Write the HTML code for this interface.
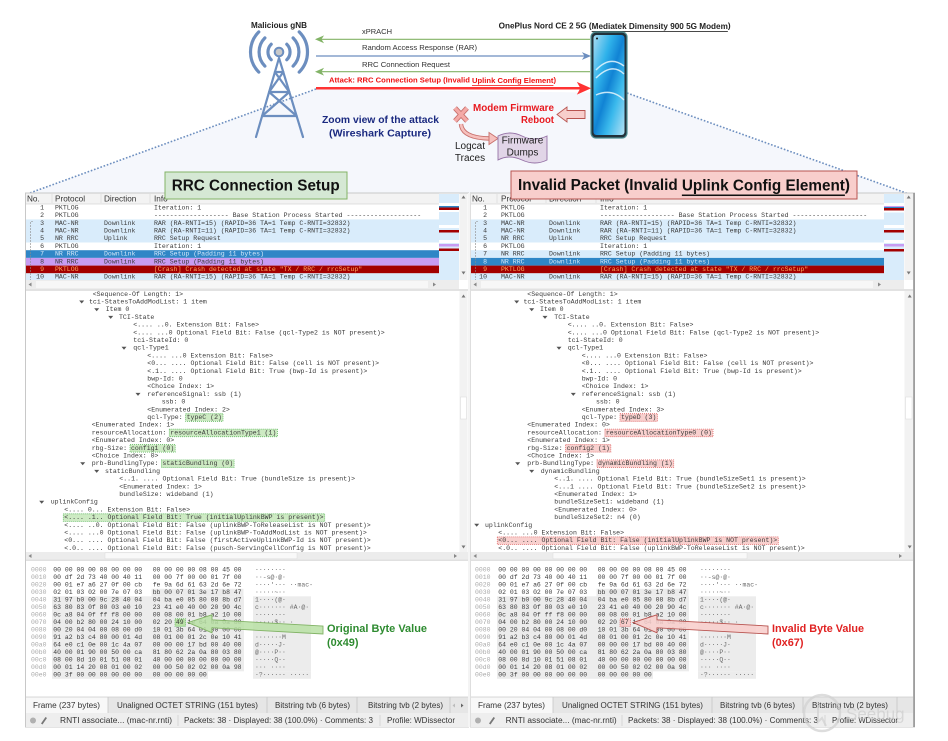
<!DOCTYPE html>
<html><head><meta charset="utf-8">
<style>
html,body{margin:0;padding:0;background:#fff;}
body{width:948px;height:741px;overflow:hidden;}
svg{display:block;font-family:"Liberation Sans",sans-serif;}
.m,.m text{font-family:"Liberation Mono",monospace;font-size:6.55px;dominant-baseline:central;}
.m{fill:#3a3a3a;}
.h,.h text{font-family:"Liberation Mono",monospace;font-size:6.45px;dominant-baseline:central;}
.h{fill:#3a3a3a;}
.o{fill:#a9a9a9;}
.a{fill:#6a6a6a;}
.hd{font-size:8.2px;fill:#333;dominant-baseline:central;}
.st{font-size:8px;fill:#333;dominant-baseline:central;}
.c{dominant-baseline:central;}
</style></head>
<body>
<svg width="948" height="741" viewBox="0 0 948 741" xmlns="http://www.w3.org/2000/svg">
<defs>
 <clipPath id="cpl"><rect x="26" y="204" width="413" height="76"/></clipPath>
 <clipPath id="cpr"><rect x="471" y="204" width="413" height="76"/></clipPath>
 <clipPath id="ctl"><rect x="26" y="291" width="433" height="261"/></clipPath>
 <clipPath id="ctr"><rect x="471" y="291" width="433" height="261"/></clipPath>
 <linearGradient id="scr" x1="0" y1="0" x2="1" y2="1">
  <stop offset="0" stop-color="#a8dcf2"/>
  <stop offset="0.3" stop-color="#2fb2ea"/>
  <stop offset="0.5" stop-color="#1183d4"/>
  <stop offset="0.7" stop-color="#3ab9ec"/>
  <stop offset="1" stop-color="#b5e2f5"/>
 </linearGradient>
</defs>

<!-- background trapezoid + dotted lines -->
<polygon points="27,194 316,89 627,93 909,194" fill="#f5f7fc"/>
<line x1="316" y1="89" x2="27" y2="194" stroke="#6c8ebf" stroke-width="1.6" stroke-dasharray="1.6 1.8"/>
<line x1="627" y1="93" x2="909" y2="194" stroke="#6c8ebf" stroke-width="1.6" stroke-dasharray="1.6 1.8"/>

<!-- gNB tower -->
<text x="251" y="25.5" class="c" font-size="8.2" font-weight="bold" fill="#222" textLength="56" lengthAdjust="spacingAndGlyphs">Malicious gNB</text>
<g stroke="#6c8ebf" stroke-width="3.2" fill="none" stroke-linecap="round">
 <path d="M271.2,44.2 A11,11 0 0 0 271.2,59.8"/>
 <path d="M264.9,37.9 A20,20 0 0 0 264.9,66.1"/>
 <path d="M258.8,31.9 A28.5,28.5 0 0 0 258.8,72.1"/>
 <path d="M286.8,44.2 A11,11 0 0 1 286.8,59.8"/>
 <path d="M293.1,37.9 A20,20 0 0 1 293.1,66.1"/>
 <path d="M299.2,31.9 A28.5,28.5 0 0 1 299.2,72.1"/>
</g>
<g stroke="#6c8ebf" stroke-width="2.2" fill="none" stroke-linecap="round">
 <path d="M279,58 L256,137 M279,58 L303,137"/>
 <path d="M274.9,72 L283.3,72 M274.9,72 L289.3,92 M283.3,72 L269.1,92 M269.1,92 L289.3,92 M269.1,92 L296.6,116 M289.3,92 L262.1,116 M262.1,116 L296.6,116"/>
</g>
<circle cx="279" cy="52" r="4.3" fill="#c9c9c9" stroke="#6c8ebf" stroke-width="2"/>

<!-- phone -->
<text x="498.6" y="26" class="c" font-size="8.2" font-weight="bold" fill="#222" textLength="232" lengthAdjust="spacingAndGlyphs">OnePlus Nord CE 2 5G (<tspan text-decoration="underline">Mediatek Dimensity 900 5G Modem</tspan>)</text>
<rect x="591" y="32" width="36" height="106" rx="5" fill="#22313a" stroke="#4f8f93" stroke-width="1.2"/>
<rect x="593.5" y="35" width="31" height="100" rx="3" fill="url(#scr)"/>
<path d="M596,70 Q610,55 624,66 M596,78 Q612,62 624,74 M596,95 Q612,88 624,100" stroke="#e6f6fd" stroke-width="1.5" fill="none" opacity="0.85"/>
<circle cx="597" cy="38.5" r="1" fill="#111"/>

<!-- sequence arrows -->
<line x1="590" y1="39.3" x2="320" y2="39.3" stroke="#82b366" stroke-width="1.2"/>
<polygon points="316,39.3 323,36.3 321,39.3 323,42.3" fill="#82b366" stroke="#82b366" stroke-width="0.8"/>
<text x="362" y="31.7" class="c" font-size="7.7" fill="#333" textLength="30" lengthAdjust="spacingAndGlyphs">xPRACH</text>

<line x1="316" y1="56" x2="586" y2="56" stroke="#6c8ebf" stroke-width="1.2"/>
<polygon points="590,56 583,53 585,56 583,59" fill="#6c8ebf" stroke="#6c8ebf" stroke-width="0.8"/>
<text x="362" y="47.7" class="c" font-size="7.7" fill="#333" textLength="115" lengthAdjust="spacingAndGlyphs">Random Access Response (RAR)</text>

<line x1="590" y1="71.7" x2="320" y2="71.7" stroke="#82b366" stroke-width="1.2"/>
<polygon points="316,71.7 323,68.7 321,71.7 323,74.7" fill="#82b366" stroke="#82b366" stroke-width="0.8"/>
<text x="362" y="64.3" class="c" font-size="7.7" fill="#333" textLength="88" lengthAdjust="spacingAndGlyphs">RRC Connection Request</text>

<line x1="316" y1="88.3" x2="581" y2="88.3" stroke="#ff3333" stroke-width="2.5"/>
<polygon points="590,88.3 578,83 581,88.3 578,93.6" fill="#ff3333" stroke="#ff3333" stroke-width="1"/>
<text x="329" y="80" class="c" font-size="7.6" font-weight="bold" fill="#ee1111" textLength="227" lengthAdjust="spacingAndGlyphs">Attack: RRC Connection Setup (Invalid <tspan text-decoration="underline">Uplink Config Element</tspan>)</text>

<!-- modem reboot -->
<text x="554" y="108.3" class="c" text-anchor="end" font-size="10" font-weight="bold" fill="#e8191f" textLength="81" lengthAdjust="spacingAndGlyphs">Modem Firmware</text>
<text x="554" y="120.5" class="c" text-anchor="end" font-size="10" font-weight="bold" fill="#e8191f" textLength="33" lengthAdjust="spacingAndGlyphs">Reboot</text>
<polygon points="557,114.5 567,107 567,110.5 585,110.5 585,118.5 567,118.5 567,122" fill="#f8cecc" stroke="#b85450" stroke-width="0.9"/>

<!-- X mark and curved arrow -->
<g stroke-linecap="butt">
 <path d="M455,108 L467,121 M467,108 L455,121" stroke="#c8706c" stroke-width="5"/>
 <path d="M455,108 L467,121 M467,108 L455,121" stroke="#f4aaa7" stroke-width="3.3"/>
</g>
<path d="M461,124 Q462,138 490,138.5" stroke="#c8706c" stroke-width="4.4" fill="none"/>
<path d="M461,124 Q462,138 490,138.5" stroke="#f6c0bd" stroke-width="2.6" fill="none"/>
<polygon points="489,132.5 498,138.5 489,144.5" fill="#f6c0bd" stroke="#c8706c" stroke-width="0.9"/>

<text x="380.5" y="120.7" class="c" text-anchor="middle" font-size="10.3" font-weight="bold" fill="#1b2a80" textLength="117" lengthAdjust="spacingAndGlyphs">Zoom view of the attack</text>
<text x="380" y="134" class="c" text-anchor="middle" font-size="10.3" font-weight="bold" fill="#1b2a80" textLength="102" lengthAdjust="spacingAndGlyphs">(Wireshark Capture)</text>

<text x="470" y="146.7" class="c" text-anchor="middle" font-size="10" fill="#222">Logcat</text>
<text x="470" y="158.3" class="c" text-anchor="middle" font-size="10" fill="#222">Traces</text>

<path d="M498,136 Q510,130 522,136 T547,136 V160 Q535,166 522,160 T498,160 Z" fill="#e1d5e7" stroke="#9673a6" stroke-width="0.9"/>
<text x="522.5" y="141" class="c" text-anchor="middle" font-size="10" fill="#222">Firmware</text>
<text x="522.5" y="153" class="c" text-anchor="middle" font-size="10" fill="#222">Dumps</text>

<!-- ================= LEFT PANEL ================= -->
<rect x="25.5" y="193" width="443" height="534" fill="#fff" stroke="#c8c8c8" stroke-width="1"/>
<rect x="26" y="193.5" width="413" height="10.5" fill="#f3f3f3"/>
<line x1="26" y1="204" x2="439" y2="204" stroke="#d6d6d6" stroke-width="0.8"/>
<path d="M52,194 V203 M101,194 V203 M150,194 V203" stroke="#dcdcdc" stroke-width="0.8"/>
<text x="27" y="199" class="hd">No.</text>
<text x="55" y="199" class="hd">Protocol</text>
<text x="104" y="199" class="hd">Direction</text>
<text x="154" y="199" class="hd">Info</text>
<g clip-path="url(#cpl)">
 <rect x="26" y="219.4" width="413" height="23.1" fill="#d9ecfb"/>
 <rect x="26" y="250.2" width="413" height="7.7" fill="#2f86c6"/>
 <rect x="26" y="257.9" width="413" height="7.7" fill="#c79cf2"/>
 <rect x="26" y="265.6" width="413" height="7.7" fill="#a30000"/>
 <rect x="26" y="273.3" width="413" height="7" fill="#d9ecfb"/>
 <path d="M33,221.5 H30.5 V280" stroke="#8a8a8a" stroke-width="0.6" fill="none" stroke-dasharray="2 1"/>
 <g class="m">
  <text x="44" y="207.85" text-anchor="end">1</text><text x="55" y="207.85">PKTLOG</text><text x="154" y="207.85">Iteration: 1</text>
  <text x="44" y="215.55" text-anchor="end">2</text><text x="55" y="215.55">PKTLOG</text><text x="154" y="215.55">------------------- Base Station Process Started -------------------</text>
  <text x="44" y="223.25" text-anchor="end">3</text><text x="55" y="223.25">MAC-NR</text><text x="104" y="223.25">Downlink</text><text x="154" y="223.25">RAR (RA-RNTI=15) (RAPID=36 TA=1 Temp C-RNTI=32832)</text>
  <text x="44" y="230.95" text-anchor="end">4</text><text x="55" y="230.95">MAC-NR</text><text x="104" y="230.95">Downlink</text><text x="154" y="230.95">RAR (RA-RNTI=11) (RAPID=36 TA=1 Temp C-RNTI=32832)</text>
  <text x="44" y="238.65" text-anchor="end">5</text><text x="55" y="238.65">NR RRC</text><text x="104" y="238.65">Uplink</text><text x="154" y="238.65">RRC Setup Request</text>
  <text x="44" y="246.35" text-anchor="end">6</text><text x="55" y="246.35">PKTLOG</text><text x="154" y="246.35">Iteration: 1</text>
  <g style="fill:#d2e7f8"><text x="44" y="254.05" text-anchor="end">7</text><text x="55" y="254.05">NR RRC</text><text x="104" y="254.05">Downlink</text><text x="154" y="254.05">RRC Setup  (Padding 11 bytes)</text></g>
  <text x="44" y="261.75" text-anchor="end">8</text><text x="55" y="261.75">NR RRC</text><text x="104" y="261.75">Downlink</text><text x="154" y="261.75">RRC Setup  (Padding 11 bytes)</text>
  <g style="fill:#ffab5e"><text x="44" y="269.45" text-anchor="end">9</text><text x="55" y="269.45">PKTLOG</text><text x="154" y="269.45">[Crash] Crash detected at state "TX / RRC / rrcSetup"</text></g>
  <text x="44" y="277.15" text-anchor="end">10</text><text x="55" y="277.15">MAC-NR</text><text x="104" y="277.15">Downlink</text><text x="154" y="277.15">RAR (RA-RNTI=15) (RAPID=36 TA=1 Temp C-RNTI=32832)</text>
 </g>
</g>
<!-- minimap left -->
<rect x="439" y="194" width="20" height="86" fill="#d9ecfb"/>
<rect x="439" y="203" width="20" height="3" fill="#fff"/>
<rect x="439" y="206" width="20" height="1.5" fill="#2f86c6"/>
<rect x="439" y="207.5" width="20" height="2.5" fill="#a30000"/>
<rect x="439" y="210" width="20" height="2" fill="#fff"/>
<rect x="439" y="225" width="20" height="3" fill="#fff"/>
<rect x="439" y="230" width="20" height="2.5" fill="#a30000"/>
<rect x="439" y="240" width="20" height="3" fill="#fff"/>
<rect x="439" y="244" width="20" height="2.5" fill="#c79cf2"/>
<rect x="439" y="248.5" width="20" height="2.5" fill="#a30000"/>
<rect x="459.5" y="193.5" width="8" height="86.5" fill="#f2f2f2"/>
<polygon points="461.5,198.5 465.5,198.5 463.5,195.5" fill="#777"/>
<polygon points="461.5,271.5 465.5,271.5 463.5,274.5" fill="#777"/>
<rect x="26" y="280" width="433" height="9" fill="#ededed"/>
<rect x="36" y="281" width="392" height="7" fill="#f7f7f7"/>
<polygon points="31.5,282.5 31.5,286.5 28.5,284.5" fill="#888"/>
<polygon points="433,282.5 433,286.5 436,284.5" fill="#888"/>
<rect x="26" y="289" width="442" height="2" fill="#e2e2e2"/>

<!-- tree left -->
<g clip-path="url(#ctl)">
 <g fill="#cdeac3" stroke="#5cb85c" stroke-width="0.8" stroke-dasharray="1 1">
  <rect x="185.6" y="413.7" width="37.4" height="7.6"/>
  <rect x="169.3" y="429.1" width="108.1" height="7.6"/>
  <rect x="130" y="444.5" width="45.2" height="7.6"/>
  <rect x="161.4" y="459.9" width="72.7" height="7.6"/>
  <rect x="63.3" y="513.8" width="261.4" height="7.6"/>
 </g>
 <g fill="#555">
  <polygon points="79.2,300.5 84.2,300.5 81.7,303.5"/>
  <polygon points="94.2,308.2 99.2,308.2 96.7,311.2"/>
  <polygon points="108.2,315.9 113.2,315.9 110.7,318.9"/>
  <polygon points="121.5,346.7 126.5,346.7 124,349.7"/>
  <polygon points="135.5,392.9 140.5,392.9 138,395.9"/>
  <polygon points="80.2,462.2 85.2,462.2 82.7,465.2"/>
  <polygon points="94.2,469.9 99.2,469.9 96.7,472.9"/>
  <polygon points="39.2,500.7 44.2,500.7 41.7,503.7"/>
 </g>
 <g class="m">
  <text x="92.7" y="294.3">&lt;Sequence-Of Length: 1&gt;</text>
  <text x="89" y="302">tci-StatesToAddModList: 1 item</text>
  <text x="105.7" y="309.7">Item 0</text>
  <text x="119" y="317.4">TCI-State</text>
  <text x="133.3" y="325.1">&lt;.... ..0. Extension Bit: False&gt;</text>
  <text x="133.3" y="332.8">&lt;.... ...0 Optional Field Bit: False (qcl-Type2 is NOT present)&gt;</text>
  <text x="133.3" y="340.5">tci-StateId: 0</text>
  <text x="133.3" y="348.2">qcl-Type1</text>
  <text x="147.3" y="355.9">&lt;.... ...0 Extension Bit: False&gt;</text>
  <text x="147.3" y="363.6">&lt;0... .... Optional Field Bit: False (cell is NOT present)&gt;</text>
  <text x="147.3" y="371.3">&lt;.1.. .... Optional Field Bit: True (bwp-Id is present)&gt;</text>
  <text x="147.3" y="379">bwp-Id: 0</text>
  <text x="147.3" y="386.7">&lt;Choice Index: 1&gt;</text>
  <text x="147.3" y="394.4">referenceSignal: ssb (1)</text>
  <text x="161.7" y="402.1">ssb: 0</text>
  <text x="147.3" y="409.8">&lt;Enumerated Index: 2&gt;</text>
  <text x="147.3" y="417.5">qcl-Type: typeC (2)</text>
  <text x="91.7" y="425.2">&lt;Enumerated Index: 1&gt;</text>
  <text x="91.7" y="432.9">resourceAllocation: resourceAllocationType1 (1)</text>
  <text x="91.7" y="440.6">&lt;Enumerated Index: 0&gt;</text>
  <text x="91.7" y="448.3">rbg-Size: config1 (0)</text>
  <text x="91.7" y="456">&lt;Choice Index: 0&gt;</text>
  <text x="91.7" y="463.7">prb-BundlingType: staticBundling (0)</text>
  <text x="105" y="471.4">staticBundling</text>
  <text x="119.3" y="479.1">&lt;..1. .... Optional Field Bit: True (bundleSize is present)&gt;</text>
  <text x="119.3" y="486.8">&lt;Enumerated Index: 1&gt;</text>
  <text x="119.3" y="494.5">bundleSize: wideband (1)</text>
  <text x="50.7" y="502.2">uplinkConfig</text>
  <text x="64.3" y="509.9">&lt;.... 0... Extension Bit: False&gt;</text>
  <text x="64.3" y="517.6">&lt;.... .1.. Optional Field Bit: True (initialUplinkBWP is present)&gt;</text>
  <text x="64.3" y="525.3">&lt;.... ..0. Optional Field Bit: False (uplinkBWP-ToReleaseList is NOT present)&gt;</text>
  <text x="64.3" y="533">&lt;.... ...0 Optional Field Bit: False (uplinkBWP-ToAddModList is NOT present)&gt;</text>
  <text x="64.3" y="540.7">&lt;0... .... Optional Field Bit: False (firstActiveUplinkBWP-Id is NOT present)&gt;</text>
  <text x="64.3" y="548.4">&lt;.0.. .... Optional Field Bit: False (pusch-ServingCellConfig is NOT present)&gt;</text>
 </g>
</g>
<rect x="459.5" y="291" width="8" height="261" fill="#f2f2f2"/>
<rect x="460.5" y="397" width="6" height="22" fill="#fff" stroke="#dedede" stroke-width="0.6"/>
<polygon points="461.5,297.5 465.5,297.5 463.5,294.5" fill="#777"/>
<polygon points="461.5,545.5 465.5,545.5 463.5,548.5" fill="#777"/>
<rect x="26" y="552" width="442" height="7.5" fill="#ececec"/>
<rect x="105" y="552.8" width="192" height="6" fill="#f9f9f9" stroke="#dcdcdc" stroke-width="0.5"/>
<polygon points="31.5,554 31.5,558 28.5,556" fill="#888"/>
<polygon points="454,554 454,558 457,556" fill="#888"/>
<rect x="26" y="559.5" width="442" height="1.5" fill="#e0e0e0"/>

<!-- hex left -->
<rect x="151.5" y="588.8" width="92" height="7.5" fill="#ececec"/>
<rect x="52" y="596.3" width="192" height="75" fill="#ececec"/>
<rect x="52" y="671.3" width="156" height="7.5" fill="#ececec"/>
<rect x="253" y="596.3" width="58" height="75" fill="#ececec"/>
<rect x="253" y="671.3" width="58" height="7.5" fill="#ececec"/>
<rect x="175" y="618.8" width="10.5" height="7.5" fill="#b9e0a5" stroke="#5cb85c" stroke-width="0.8" stroke-dasharray="1 1"/>
<g class="h">
<text class="o" x="31" y="570">0000</text><text x="53.3" y="570">00 00 00 00 00 00 00 00</text><text x="152.7" y="570">00 00 00 00 08 00 45 00</text><text class="a" x="255" y="570">········</text>
<text class="o" x="31" y="577.5">0010</text><text x="53.3" y="577.5">00 df 2d 73 40 00 40 11</text><text x="152.7" y="577.5">00 00 7f 00 00 01 7f 00</text><text class="a" x="255" y="577.5">··-s@·@·</text>
<text class="o" x="31" y="585">0020</text><text x="53.3" y="585">00 01 e7 a6 27 0f 00 cb</text><text x="152.7" y="585">fe 9a 6d 61 63 2d 6e 72</text><text class="a" x="255" y="585">····'···  ··mac-</text>
<text class="o" x="31" y="592.5">0030</text><text x="53.3" y="592.5">02 01 03 02 00 7e 07 03</text><text x="152.7" y="592.5">bb 00 07 01 3e 17 b8 47</text><text class="a" x="255" y="592.5">·····~··</text>
<text class="o" x="31" y="600">0040</text><text x="53.3" y="600">31 97 b0 00 9c 28 40 04</text><text x="152.7" y="600">04 ba e0 05 80 08 8b d7</text><text class="a" x="255" y="600">1····(@·</text>
<text class="o" x="31" y="607.5">0050</text><text x="53.3" y="607.5">63 80 83 0f 80 03 e0 10</text><text x="152.7" y="607.5">23 41 e0 40 00 20 90 4c</text><text class="a" x="255" y="607.5">c·······  #A·@·</text>
<text class="o" x="31" y="615">0060</text><text x="53.3" y="615">0c a8 04 0f ff f8 00 00</text><text x="152.7" y="615">00 08 00 01 b8 a2 10 00</text><text class="a" x="255" y="615">········</text>
<text class="o" x="31" y="622.5">0070</text><text x="53.3" y="622.5">04 00 b2 80 00 24 10 00</text><text x="152.7" y="622.5">02 20 49 1e 64 0a 0a 80</text><text class="a" x="255" y="622.5">·····$··  ·</text>
<text class="o" x="31" y="630">0080</text><text x="53.3" y="630">00 20 04 04 00 08 00 d0</text><text x="152.7" y="630">10 01 3b 64 01 00 00 00</text>
<text class="o" x="31" y="637.5">0090</text><text x="53.3" y="637.5">91 a2 b3 c4 80 00 01 4d</text><text x="152.7" y="637.5">08 01 00 01 2c 0e 10 41</text><text class="a" x="255" y="637.5">·······M</text>
<text class="o" x="31" y="645">00a0</text><text x="53.3" y="645">64 e0 c1 0e 00 1c 4a 07</text><text x="152.7" y="645">00 00 00 17 bd 00 40 00</text><text class="a" x="255" y="645">d·····J·</text>
<text class="o" x="31" y="652.5">00b0</text><text x="53.3" y="652.5">40 00 01 90 00 50 00 ca</text><text x="152.7" y="652.5">81 80 62 2a 0a 80 03 80</text><text class="a" x="255" y="652.5">@····P··</text>
<text class="o" x="31" y="660">00c0</text><text x="53.3" y="660">08 00 8d 10 01 51 08 01</text><text x="152.7" y="660">40 00 00 00 00 00 00 00</text><text class="a" x="255" y="660">·····Q··</text>
<text class="o" x="31" y="667.5">00d0</text><text x="53.3" y="667.5">00 01 14 20 08 01 00 02</text><text x="152.7" y="667.5">00 00 50 02 02 00 0a 98</text><text class="a" x="255" y="667.5">··· ····</text>
<text class="o" x="31" y="675">00e0</text><text x="53.3" y="675">00 3f 00 00 00 00 00 00</text><text x="152.7" y="675">00 00 00 00 00</text><text class="a" x="255" y="675">·?······  ·····</text>
</g>
<!-- tabs left -->
<rect x="26" y="697" width="442" height="16" fill="#e6e6e6"/>
<line x1="26" y1="697" x2="468" y2="697" stroke="#cdcdcd" stroke-width="0.8"/>
<rect x="26" y="697.5" width="82" height="15.5" fill="#f8f8f8"/>
<path d="M108,697 V713 M267,697 V713 M357,697 V713 M450,697 V713" stroke="#c6c6c6" stroke-width="0.8"/>
<text x="33" y="705.5" class="st" textLength="67" lengthAdjust="spacingAndGlyphs">Frame (237 bytes)</text>
<text x="117" y="705.5" class="st" textLength="141" lengthAdjust="spacingAndGlyphs">Unaligned OCTET STRING (151 bytes)</text>
<text x="275" y="705.5" class="st" textLength="75" lengthAdjust="spacingAndGlyphs">Bitstring tvb (6 bytes)</text>
<text x="368" y="705.5" class="st" textLength="75" lengthAdjust="spacingAndGlyphs">Bitstring tvb (2 bytes)</text>
<polygon points="455,703.5 455,707.5 452.5,705.5" fill="#bbb"/>
<polygon points="461,703.5 461,707.5 463.5,705.5" fill="#666"/>
<rect x="26" y="713" width="442" height="14" fill="#eeeeee"/>
<circle cx="33" cy="720.5" r="3" fill="#b0b0b0"/>
<path d="M41,723.5 L45.5,717 L47,718 L42.5,724.5 Z" fill="#777"/>
<text x="60" y="720.5" class="st" textLength="112" lengthAdjust="spacingAndGlyphs">RNTI associate... (mac-nr.rnti)</text>
<line x1="178" y1="715" x2="178" y2="726" stroke="#cfcfcf" stroke-width="0.8"/>
<text x="184" y="720.5" class="st" textLength="189" lengthAdjust="spacingAndGlyphs">Packets: 38 · Displayed: 38 (100.0%) · Comments: 3</text>
<line x1="380" y1="715" x2="380" y2="726" stroke="#cfcfcf" stroke-width="0.8"/>
<text x="387" y="720.5" class="st" textLength="68" lengthAdjust="spacingAndGlyphs">Profile: WDissector</text>

<!-- ================= RIGHT PANEL ================= -->
<rect x="470.5" y="193" width="444" height="534" fill="#fff" stroke="#c8c8c8" stroke-width="1"/>
<line x1="914" y1="193" x2="914" y2="727" stroke="#8f8f8f" stroke-width="1.5"/>
<rect x="471" y="193.5" width="413" height="10.5" fill="#f3f3f3"/>
<line x1="471" y1="204" x2="884" y2="204" stroke="#d6d6d6" stroke-width="0.8"/>
<path d="M497,194 V203 M546,194 V203 M596,194 V203" stroke="#dcdcdc" stroke-width="0.8"/>
<text x="472" y="199" class="hd">No.</text>
<text x="501" y="199" class="hd">Protocol</text>
<text x="549" y="199" class="hd">Direction</text>
<text x="600" y="199" class="hd">Info</text>
<g clip-path="url(#cpr)">
 <rect x="471" y="219.4" width="413" height="23.1" fill="#d9ecfb"/>
 <rect x="471" y="250.2" width="413" height="7.7" fill="#d9ecfb"/>
 <rect x="471" y="257.9" width="413" height="7.7" fill="#2f86c6"/>
 <rect x="471" y="265.6" width="413" height="7.7" fill="#a30000"/>
 <rect x="471" y="273.3" width="413" height="7" fill="#d9ecfb"/>
 <path d="M478,221.5 H475.5 V280" stroke="#8a8a8a" stroke-width="0.6" fill="none" stroke-dasharray="2 1"/>
 <g class="m">
  <text x="487" y="207.85" text-anchor="end">1</text><text x="501" y="207.85">PKTLOG</text><text x="600" y="207.85">Iteration: 1</text>
  <text x="487" y="215.55" text-anchor="end">2</text><text x="501" y="215.55">PKTLOG</text><text x="600" y="215.55">------------------- Base Station Process Started -------------------</text>
  <text x="487" y="223.25" text-anchor="end">3</text><text x="501" y="223.25">MAC-NR</text><text x="549" y="223.25">Downlink</text><text x="600" y="223.25">RAR (RA-RNTI=15) (RAPID=36 TA=1 Temp C-RNTI=32832)</text>
  <text x="487" y="230.95" text-anchor="end">4</text><text x="501" y="230.95">MAC-NR</text><text x="549" y="230.95">Downlink</text><text x="600" y="230.95">RAR (RA-RNTI=11) (RAPID=36 TA=1 Temp C-RNTI=32832)</text>
  <text x="487" y="238.65" text-anchor="end">5</text><text x="501" y="238.65">NR RRC</text><text x="549" y="238.65">Uplink</text><text x="600" y="238.65">RRC Setup Request</text>
  <text x="487" y="246.35" text-anchor="end">6</text><text x="501" y="246.35">PKTLOG</text><text x="600" y="246.35">Iteration: 1</text>
  <text x="487" y="254.05" text-anchor="end">7</text><text x="501" y="254.05">NR RRC</text><text x="549" y="254.05">Downlink</text><text x="600" y="254.05">RRC Setup  (Padding 11 bytes)</text>
  <g style="fill:#d2e7f8"><text x="487" y="261.75" text-anchor="end">8</text><text x="501" y="261.75">NR RRC</text><text x="549" y="261.75">Downlink</text><text x="600" y="261.75">RRC Setup  (Padding 11 bytes)</text></g>
  <g style="fill:#ffab5e"><text x="487" y="269.45" text-anchor="end">9</text><text x="501" y="269.45">PKTLOG</text><text x="600" y="269.45">[Crash] Crash detected at state "TX / RRC / rrcSetup"</text></g>
  <text x="487" y="277.15" text-anchor="end">10</text><text x="501" y="277.15">MAC-NR</text><text x="549" y="277.15">Downlink</text><text x="600" y="277.15">RAR (RA-RNTI=15) (RAPID=36 TA=1 Temp C-RNTI=32832)</text>
 </g>
</g>
<!-- minimap right -->
<rect x="884" y="194" width="20" height="86" fill="#d9ecfb"/>
<rect x="884" y="203" width="20" height="3" fill="#fff"/>
<rect x="884" y="206" width="20" height="1" fill="#c79cf2"/>
<rect x="884" y="207" width="20" height="1" fill="#2f86c6"/>
<rect x="884" y="208" width="20" height="2.5" fill="#a30000"/>
<rect x="884" y="210.5" width="20" height="2" fill="#fff"/>
<rect x="884" y="225" width="20" height="3" fill="#fff"/>
<rect x="884" y="230" width="20" height="2.5" fill="#a30000"/>
<rect x="884" y="240" width="20" height="3" fill="#fff"/>
<rect x="884" y="244" width="20" height="2.5" fill="#c79cf2"/>
<rect x="884" y="249" width="20" height="2.5" fill="#a30000"/>
<rect x="904.5" y="193.5" width="8.5" height="86.5" fill="#f2f2f2"/>
<polygon points="906.7,198.5 910.7,198.5 908.7,195.5" fill="#777"/>
<polygon points="906.7,271.5 910.7,271.5 908.7,274.5" fill="#777"/>
<rect x="471" y="280" width="433" height="9" fill="#ededed"/>
<rect x="481" y="281" width="392" height="7" fill="#f7f7f7"/>
<polygon points="476.5,282.5 476.5,286.5 473.5,284.5" fill="#888"/>
<polygon points="878,282.5 878,286.5 881,284.5" fill="#888"/>
<rect x="471" y="289" width="442" height="2" fill="#e2e2e2"/>

<!-- tree right -->
<g clip-path="url(#ctr)">
 <g fill="#f8d0ce" stroke="#e06666" stroke-width="0.8" stroke-dasharray="1 1">
  <rect x="620" y="413.7" width="37.4" height="7.6"/>
  <rect x="604.9" y="429.1" width="108.1" height="7.6"/>
  <rect x="565.6" y="444.5" width="45.2" height="7.6"/>
  <rect x="597" y="459.9" width="76.7" height="7.6"/>
  <rect x="497.3" y="536.9" width="281" height="7.6"/>
 </g>
 <g fill="#555">
  <polygon points="514.2,300.5 519.2,300.5 516.7,303.5"/>
  <polygon points="529.2,308.2 534.2,308.2 531.7,311.2"/>
  <polygon points="542.5,315.9 547.5,315.9 545,318.9"/>
  <polygon points="556.5,346.7 561.5,346.7 559,349.7"/>
  <polygon points="570.8,392.9 575.8,392.9 573.3,395.9"/>
  <polygon points="515.2,462.2 520.2,462.2 517.7,465.2"/>
  <polygon points="529.2,469.9 534.2,469.9 531.7,472.9"/>
  <polygon points="474.2,523.8 479.2,523.8 476.7,526.8"/>
 </g>
 <g class="m">
  <text x="527.3" y="294.3">&lt;Sequence-Of Length: 1&gt;</text>
  <text x="523.5" y="302">tci-StatesToAddModList: 1 item</text>
  <text x="540" y="309.7">Item 0</text>
  <text x="554.3" y="317.4">TCI-State</text>
  <text x="567.7" y="325.1">&lt;.... ..0. Extension Bit: False&gt;</text>
  <text x="567.7" y="332.8">&lt;.... ...0 Optional Field Bit: False (qcl-Type2 is NOT present)&gt;</text>
  <text x="567.7" y="340.5">tci-StateId: 0</text>
  <text x="567.7" y="348.2">qcl-Type1</text>
  <text x="581.7" y="355.9">&lt;.... ...0 Extension Bit: False&gt;</text>
  <text x="581.7" y="363.6">&lt;0... .... Optional Field Bit: False (cell is NOT present)&gt;</text>
  <text x="581.7" y="371.3">&lt;.1.. .... Optional Field Bit: True (bwp-Id is present)&gt;</text>
  <text x="581.7" y="379">bwp-Id: 0</text>
  <text x="581.7" y="386.7">&lt;Choice Index: 1&gt;</text>
  <text x="581.7" y="394.4">referenceSignal: ssb (1)</text>
  <text x="596" y="402.1">ssb: 0</text>
  <text x="581.7" y="409.8">&lt;Enumerated Index: 3&gt;</text>
  <text x="581.7" y="417.5">qcl-Type: typeD (3)</text>
  <text x="527.3" y="425.2">&lt;Enumerated Index: 0&gt;</text>
  <text x="527.3" y="432.9">resourceAllocation: resourceAllocationType0 (0)</text>
  <text x="527.3" y="440.6">&lt;Enumerated Index: 1&gt;</text>
  <text x="527.3" y="448.3">rbg-Size: config2 (1)</text>
  <text x="527.3" y="456">&lt;Choice Index: 1&gt;</text>
  <text x="527.3" y="463.7">prb-BundlingType: dynamicBundling (1)</text>
  <text x="540.7" y="471.4">dynamicBundling</text>
  <text x="554.3" y="479.1">&lt;..1. .... Optional Field Bit: True (bundleSizeSet1 is present)&gt;</text>
  <text x="554.3" y="486.8">&lt;...1 .... Optional Field Bit: True (bundleSizeSet2 is present)&gt;</text>
  <text x="554.3" y="494.5">&lt;Enumerated Index: 1&gt;</text>
  <text x="554.3" y="502.2">bundleSizeSet1: wideband (1)</text>
  <text x="554.3" y="509.9">&lt;Enumerated Index: 0&gt;</text>
  <text x="554.3" y="517.6">bundleSizeSet2: n4 (0)</text>
  <text x="485" y="525.3">uplinkConfig</text>
  <text x="498.3" y="533">&lt;.... ...0 Extension Bit: False&gt;</text>
  <text x="498.3" y="540.7">&lt;0... .... Optional Field Bit: False (initialUplinkBWP is NOT present)&gt;</text>
  <text x="498.3" y="548.4">&lt;.0.. .... Optional Field Bit: False (uplinkBWP-ToReleaseList is NOT present)&gt;</text>
 </g>
</g>
<rect x="904.5" y="291" width="8.5" height="261" fill="#f2f2f2"/>
<rect x="905.5" y="397" width="6.5" height="22" fill="#fff" stroke="#dedede" stroke-width="0.6"/>
<polygon points="907.7,297.5 911.7,297.5 909.7,294.5" fill="#777"/>
<polygon points="907.7,545.5 911.7,545.5 909.7,548.5" fill="#777"/>
<rect x="471" y="552" width="442" height="7.5" fill="#ececec"/>
<rect x="553" y="552.8" width="194" height="6" fill="#f9f9f9" stroke="#dcdcdc" stroke-width="0.5"/>
<polygon points="476.5,554 476.5,558 473.5,556" fill="#888"/>
<polygon points="899,554 899,558 902,556" fill="#888"/>
<rect x="471" y="559.5" width="442" height="1.5" fill="#e0e0e0"/>

<!-- hex right -->
<rect x="596.5" y="588.8" width="92" height="7.5" fill="#ececec"/>
<rect x="497" y="596.3" width="192" height="75" fill="#ececec"/>
<rect x="497" y="671.3" width="156" height="7.5" fill="#ececec"/>
<rect x="698" y="596.3" width="58" height="75" fill="#ececec"/>
<rect x="698" y="671.3" width="58" height="7.5" fill="#ececec"/>
<rect x="620" y="618.8" width="10.5" height="7.5" fill="#f8cecc" stroke="#e06666" stroke-width="0.8" stroke-dasharray="1 1"/>
<g class="h">
<text class="o" x="475" y="570">0000</text><text x="498.3" y="570">00 00 00 00 00 00 00 00</text><text x="597.7" y="570">00 00 00 00 08 00 45 00</text><text class="a" x="700" y="570">········</text>
<text class="o" x="475" y="577.5">0010</text><text x="498.3" y="577.5">00 df 2d 73 40 00 40 11</text><text x="597.7" y="577.5">00 00 7f 00 00 01 7f 00</text><text class="a" x="700" y="577.5">··-s@·@·</text>
<text class="o" x="475" y="585">0020</text><text x="498.3" y="585">00 01 e7 a6 27 0f 00 cb</text><text x="597.7" y="585">fe 9a 6d 61 63 2d 6e 72</text><text class="a" x="700" y="585">····'···  ··mac-</text>
<text class="o" x="475" y="592.5">0030</text><text x="498.3" y="592.5">02 01 03 02 00 7e 07 03</text><text x="597.7" y="592.5">bb 00 07 01 3e 17 b8 47</text><text class="a" x="700" y="592.5">·····~··</text>
<text class="o" x="475" y="600">0040</text><text x="498.3" y="600">31 97 b0 00 9c 28 40 04</text><text x="597.7" y="600">04 ba e0 05 80 08 8b d7</text><text class="a" x="700" y="600">1····(@·</text>
<text class="o" x="475" y="607.5">0050</text><text x="498.3" y="607.5">63 80 83 0f 80 03 e0 10</text><text x="597.7" y="607.5">23 41 e0 40 00 20 90 4c</text><text class="a" x="700" y="607.5">c·······  #A·@·</text>
<text class="o" x="475" y="615">0060</text><text x="498.3" y="615">0c a8 04 0f ff f8 00 00</text><text x="597.7" y="615">00 08 00 01 b8 a2 10 00</text><text class="a" x="700" y="615">········</text>
<text class="o" x="475" y="622.5">0070</text><text x="498.3" y="622.5">04 00 b2 80 00 24 10 00</text><text x="597.7" y="622.5">02 20 67 1e 64 0a 0a 80</text><text class="a" x="700" y="622.5">·····$··  ·</text>
<text class="o" x="475" y="630">0080</text><text x="498.3" y="630">00 20 04 04 00 08 00 d0</text><text x="597.7" y="630">10 01 3b 64 01 00 00 00</text>
<text class="o" x="475" y="637.5">0090</text><text x="498.3" y="637.5">91 a2 b3 c4 80 00 01 4d</text><text x="597.7" y="637.5">08 01 00 01 2c 0e 10 41</text><text class="a" x="700" y="637.5">·······M</text>
<text class="o" x="475" y="645">00a0</text><text x="498.3" y="645">64 e0 c1 0e 00 1c 4a 07</text><text x="597.7" y="645">00 00 00 17 bd 00 40 00</text><text class="a" x="700" y="645">d·····J·</text>
<text class="o" x="475" y="652.5">00b0</text><text x="498.3" y="652.5">40 00 01 90 00 50 00 ca</text><text x="597.7" y="652.5">81 80 62 2a 0a 80 03 80</text><text class="a" x="700" y="652.5">@····P··</text>
<text class="o" x="475" y="660">00c0</text><text x="498.3" y="660">08 00 8d 10 01 51 08 01</text><text x="597.7" y="660">40 00 00 00 00 00 00 00</text><text class="a" x="700" y="660">·····Q··</text>
<text class="o" x="475" y="667.5">00d0</text><text x="498.3" y="667.5">00 01 14 20 08 01 00 02</text><text x="597.7" y="667.5">00 00 50 02 02 00 0a 98</text><text class="a" x="700" y="667.5">··· ····</text>
<text class="o" x="475" y="675">00e0</text><text x="498.3" y="675">00 3f 00 00 00 00 00 00</text><text x="597.7" y="675">00 00 00 00 00</text><text class="a" x="700" y="675">·?······  ·····</text>
</g>
<!-- tabs right -->
<rect x="471" y="697" width="442" height="16" fill="#e6e6e6"/>
<line x1="471" y1="697" x2="913" y2="697" stroke="#cdcdcd" stroke-width="0.8"/>
<rect x="471" y="697.5" width="82" height="15.5" fill="#f8f8f8"/>
<path d="M553,697 V713 M712,697 V713 M803,697 V713 M897,697 V713" stroke="#c6c6c6" stroke-width="0.8"/>
<text x="478" y="705.5" class="st" textLength="67" lengthAdjust="spacingAndGlyphs">Frame (237 bytes)</text>
<text x="562" y="705.5" class="st" textLength="141" lengthAdjust="spacingAndGlyphs">Unaligned OCTET STRING (151 bytes)</text>
<text x="720" y="705.5" class="st" textLength="75" lengthAdjust="spacingAndGlyphs">Bitstring tvb (6 bytes)</text>
<text x="812" y="705.5" class="st" textLength="76" lengthAdjust="spacingAndGlyphs">Bitstring tvb (2 bytes)</text>
<rect x="471" y="713" width="442" height="14" fill="#eeeeee"/>
<circle cx="478" cy="720.5" r="3" fill="#b0b0b0"/>
<path d="M489,723.5 L493.5,717 L495,718 L490.5,724.5 Z" fill="#777"/>
<text x="505.7" y="720.5" class="st" textLength="111" lengthAdjust="spacingAndGlyphs">RNTI associate... (mac-nr.rnti)</text>
<line x1="622" y1="715" x2="622" y2="726" stroke="#cfcfcf" stroke-width="0.8"/>
<text x="628" y="720.5" class="st" textLength="190" lengthAdjust="spacingAndGlyphs">Packets: 38 · Displayed: 38 (100.0%) · Comments: 3</text>
<line x1="825" y1="715" x2="825" y2="726" stroke="#cfcfcf" stroke-width="0.8"/>
<text x="832" y="720.5" class="st" textLength="66" lengthAdjust="spacingAndGlyphs">Profile: WDissector</text>

<!-- panel separator -->
<rect x="468" y="193" width="2.5" height="534" fill="#f4f4f4"/>

<!-- hex callout arrows -->
<polygon points="188,622.5 212,614.8 212,619.8 323,626 323,634 212,627.8 212,632.8" fill="#b9e0a5" fill-opacity="0.85" stroke="#82b366" stroke-width="0.9"/>
<text x="327" y="629" class="c" font-size="10.9" font-weight="bold" fill="#2e8b30" textLength="100" lengthAdjust="spacingAndGlyphs">Original Byte Value</text>
<text x="327" y="643" class="c" font-size="10.9" font-weight="bold" fill="#2e8b30">(0x49)</text>
<polygon points="633,622.5 657,614.8 657,619.8 768,626 768,634 657,627.8 657,632.8" fill="#f8cecc" fill-opacity="0.88" stroke="#b85450" stroke-width="0.9"/>
<text x="772" y="629" class="c" font-size="10.9" font-weight="bold" fill="#e02222" textLength="92" lengthAdjust="spacingAndGlyphs">Invalid Byte Value</text>
<text x="772" y="643" class="c" font-size="10.9" font-weight="bold" fill="#e02222">(0x67)</text>

<!-- title boxes -->
<rect x="165" y="172" width="182" height="27" fill="#d5e8d4" stroke="#82b366" stroke-width="1"/>
<text x="171.7" y="186" class="c" font-size="15.3" font-weight="bold" fill="#111" textLength="168" lengthAdjust="spacingAndGlyphs">RRC Connection Setup</text>
<rect x="511" y="171" width="346" height="28" fill="#f8cecc" stroke="#b85450" stroke-width="1"/>
<text x="518" y="185.5" class="c" font-size="15.3" font-weight="bold" fill="#111" textLength="332" lengthAdjust="spacingAndGlyphs">Invalid Packet (Invalid <tspan text-decoration="underline">Uplink Config Element</tspan>)</text>

<!-- watermark -->
<g opacity="0.75">
 <circle cx="822" cy="713" r="18" fill="none" stroke="#d2d2d2" stroke-width="2.5"/>
 <path d="M818,705 L818,722 L822,718 L826,726" fill="none" stroke="#d2d2d2" stroke-width="2"/>
 <text x="846" y="714" class="c" font-size="17" fill="#cfcfcf">Seebug</text>
</g>
</svg>
</body></html>
